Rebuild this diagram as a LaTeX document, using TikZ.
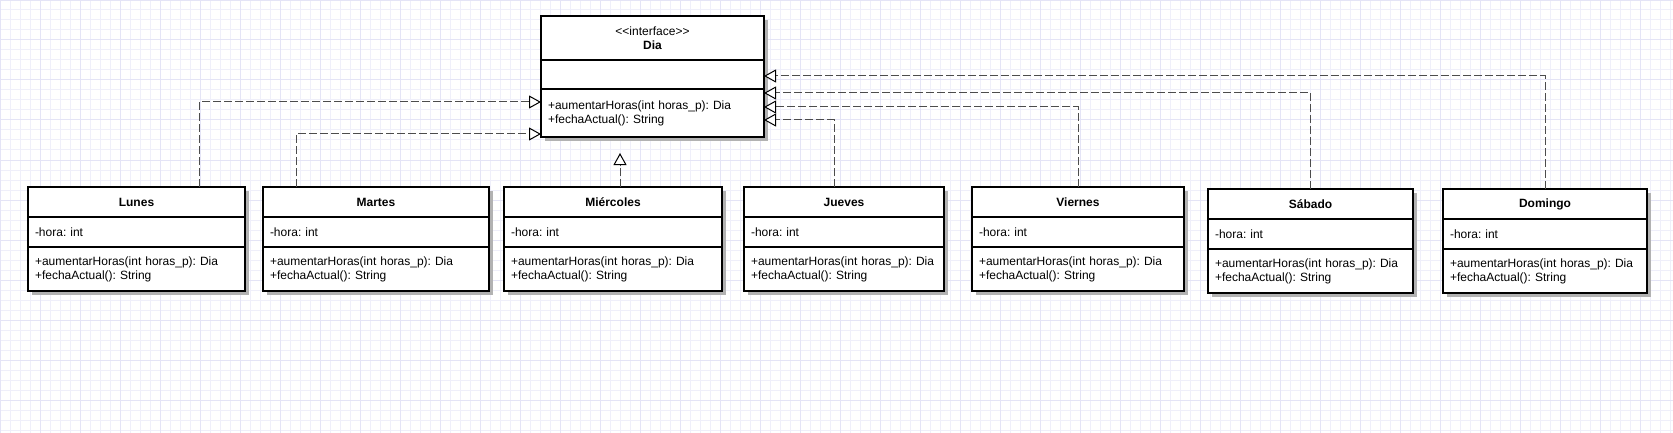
\documentclass[tikz,border=0pt]{standalone}
\usepackage{fontspec}
\setmainfont{Liberation Sans}
\usepackage{xcolor}
\usetikzlibrary{arrows.meta,positioning,shadows}
\frenchspacing

\definecolor{gridminor}{HTML}{EFEFFA}
\definecolor{gridmajor}{HTML}{E4E4F6}

\begin{document}
\begin{tikzpicture}[
  x=1pt, y=-1pt,
  font=\fontsize{12pt}{14pt}\selectfont,
  part/.style={draw, line width=2pt, fill=white, outer sep=0pt,
    inner xsep=7pt, inner ysep=0pt, align=left,
    general shadow={fill=black!30, shadow xshift=4pt, shadow yshift=-4pt}},
  head/.style={part, align=center, font=\fontsize{12pt}{14pt}\selectfont\bfseries},
  impl/.style={black!70, line width=1pt, dash pattern=on 8pt off 3pt,
    -{Triangle[open, fill=white, color=black, length=12pt, width=13pt]}}
]
  \useasboundingbox (0,0) rectangle (1673,433);
  \fill[white] (0,0) rectangle (1673,433);
  \draw[gridminor, line width=1pt, step=10pt] (0,0) grid (1673,433);
  \draw[gridmajor, line width=1pt, step=40pt] (0,0) grid (1673,433);

  % interface
  \node[head, text width=209pt, minimum height=44pt, anchor=north west] (dia-t) at (541,16)
    {{\normalfont <{}<interface>{}>}\\Dia};
  \node[part, text width=209pt, minimum height=29pt, below=0pt of dia-t] (dia-a) {};
  \node[part, text width=209pt, minimum height=48pt, below=0pt of dia-a] (dia-m)
    {+aumentarHoras(int horas\_p): Dia\\+fechaActual(): String};

  % classes
  \foreach \id/\x/\y/\w/\name in {lunes/28/187/217/Lunes, martes/263/187/226/Martes,
      miercoles/504/187/218/Miércoles, jueves/744/187/200/Jueves,
      viernes/972/187/212/Viernes, sabado/1208/189/205/Sábado,
      domingo/1443/189/204/Domingo}{
    \pgfmathsetmacro{\tw}{\w-14}
    \node[head, text width=\tw pt, minimum height=30pt, anchor=north west] (\id-t) at (\x,\y) {\name};
    \node[part, text width=\tw pt, minimum height=30pt, below=0pt of \id-t] (\id-a) {-hora: int};
    \node[part, text width=\tw pt, minimum height=44pt, below=0pt of \id-a] (\id-m)
      {+aumentarHoras(int horas\_p): Dia\\+fechaActual(): String};
  }

  \coordinate (dia-gap) at ([yshift=-16pt]dia-m.south);

  \draw[impl] ([xshift=62.5pt]lunes-t.north) |- ([yshift=11pt]dia-m.west);
  \draw[impl] ([xshift=-80pt]martes-t.north) |- ([yshift=-21pt]dia-m.west);
  \draw[impl] ([xshift=7pt]miercoles-t.north) -- ([xshift=7pt]miercoles-t.north |- dia-gap);
  \draw[impl] ([xshift=-10pt]jueves-t.north) |- ([yshift=-7pt]dia-m.east);
  \draw[impl] (viernes-t.north) |- ([yshift=6pt]dia-m.east);
  \draw[impl] (sabado-t.north) |- ([yshift=20pt]dia-m.east);
  \draw[impl] (domingo-t.north) |- ([yshift=-1.5pt]dia-a.east);
\end{tikzpicture}
\end{document}
